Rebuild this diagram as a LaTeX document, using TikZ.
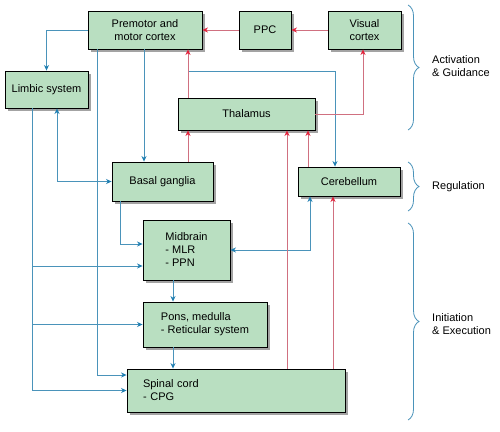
\documentclass[tikz,border=0pt]{standalone}
\usepackage{fontspec}
\setmainfont{Liberation Sans}
\usetikzlibrary{arrows.meta,shadows,decorations.pathreplacing,calc}
\definecolor{boxfill}{HTML}{B9DFC1}
\definecolor{lineblue}{HTML}{4A93BA}
\definecolor{tipblue}{HTML}{1F7FB2}
\definecolor{linered}{HTML}{D07080}
\definecolor{tipred}{HTML}{E3213B}
\definecolor{bracecol}{HTML}{4A93BA}
\begin{document}
\begin{tikzpicture}[x=1pt,y=-1pt,
  font=\fontsize{11}{13}\selectfont,
  box/.style={draw=black, line width=0.9pt, fill=boxfill, inner sep=0pt, align=center,
    drop shadow={shadow xshift=2.5pt, shadow yshift=-2.5pt, fill=black!45, opacity=0.8}},
  bl/.style={draw=lineblue, line width=0.8pt, -{Stealth[length=5.5pt,width=5pt,color=tipblue]}},
  blb/.style={draw=lineblue, line width=0.8pt, {Stealth[length=5.5pt,width=5pt,color=tipblue]}-{Stealth[length=5.5pt,width=5pt,color=tipblue]}},
  rd/.style={draw=linered, line width=0.8pt, -{Stealth[length=5.5pt,width=5pt,color=tipred]}},
  brc/.style={draw=bracecol, line width=0.8pt, decorate, decoration={brace, amplitude=11pt}},
  lab/.style={anchor=west, align=left, inner sep=0pt}
]
\useasboundingbox[fill=white] (0,0) rectangle (500,431);

% boxes
\node[box, minimum width=114pt, minimum height=38pt] (premotor) at (145,30) {Premotor and\\motor cortex};
\node[box, minimum width=52pt, minimum height=38pt] (ppc) at (265,30) {PPC};
\node[box, minimum width=73pt, minimum height=38pt] (visual) at (364.5,30) {Visual\\cortex};
\node[box, minimum width=83pt, minimum height=37pt] (limbic) at (46.5,89.5) {Limbic system};
\node[box, minimum width=137pt, minimum height=32pt] (thalamus) at (246.5,114) {Thalamus};
\node[box, minimum width=101pt, minimum height=39pt] (basal) at (162.5,181.5) {Basal ganglia};
\node[box, minimum width=102pt, minimum height=29pt] (cerebellum) at (349,181.5) {Cerebellum};
\node[box, minimum width=87pt, minimum height=60pt, align=left] (midbrain) at (186.5,250) {Midbrain\\- MLR\\- PPN};
\node[box, minimum width=124pt, minimum height=45pt, align=left] (pons) at (205,324.5) {Pons, medulla\\- Reticular system};
\node[box, minimum height=43pt, text width=186pt, inner xsep=16pt, align=left] (spinal) at (236,390.5) {Spinal cord\\- CPG};

% blue connectors
\coordinate (cbstart) at (188,71);
\draw[bl] (premotor.west) -| (limbic.north);
\draw[bl] (32,0 |- limbic.south) |- (spinal.west);
\draw[bl] (32,266) -- (midbrain.west |- 0,266);
\draw[bl] (32,0 |- pons.west) -- (pons.west);
\draw[blb] (57,0 |- limbic.south) |- (basal.west);
\draw[bl] (97,0 |- premotor.south) |- (spinal.west |- 0,375);
\draw[bl] (144,0 |- premotor.south) -- (144,0 |- basal.north);
\draw[bl] (cbstart) -| (335,0 |- cerebellum.north);
\draw[bl] (120,0 |- basal.south) |- (midbrain.west |- 0,244);
\draw[blb] (midbrain.east) -| (310,0 |- cerebellum.south);
\draw[bl] (173,0 |- midbrain.south) -- (173,0 |- pons.north);
\draw[bl] (173,0 |- pons.south) -- (173,0 |- spinal.north);

% red connectors
\draw[rd] (visual.west) -- (ppc.east);
\draw[rd] (ppc.west) -- (premotor.east);
\draw[rd] (188,0 |- thalamus.north) -- (188,0 |- premotor.south);
\draw[rd] (thalamus.east) -| (363,0 |- visual.south);
\draw[rd] (188,0 |- basal.north) -- (188,0 |- thalamus.south);
\draw[rd] (287,0 |- spinal.north) -- (287,0 |- thalamus.south);
\draw[rd] (308,0 |- cerebellum.north) -- (308,0 |- thalamus.south);
\draw[rd] (333,0 |- spinal.north) -- (333,0 |- cerebellum.south);

% braces and labels
\draw[brc] (408,5) -- (408,130);
\draw[brc] (408,162) -- (408,211);
\draw[brc] (408,223) -- (408,420);
\node[lab] (lact) at (432,66.5) {Activation\\\& Guidance};
\node[lab] (lreg) at (432,187) {Regulation};
\node[lab] (lini) at (432,324.5) {Initiation\\\& Execution};
\end{tikzpicture}
\end{document}
